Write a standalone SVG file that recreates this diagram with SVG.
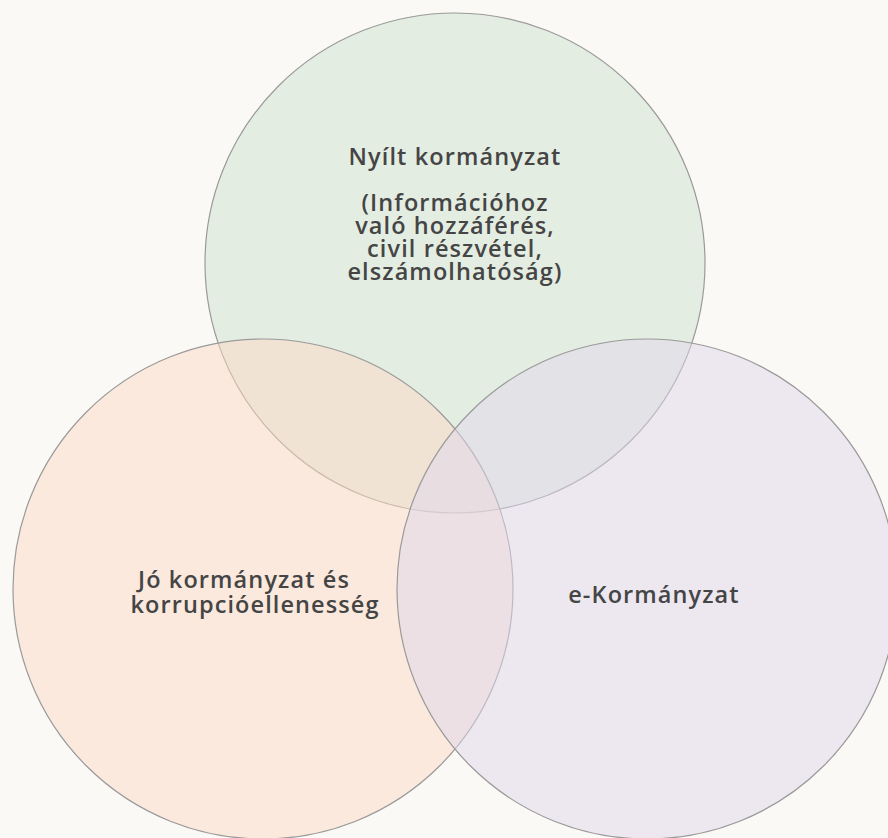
<svg xmlns="http://www.w3.org/2000/svg" width="888" height="838" viewBox="0 0 888 838">
<style>
.c{stroke:#9a9a9a;stroke-width:1.2;fill-opacity:0.5}
.t{font-family:"Open Sans","Liberation Sans",sans-serif;font-weight:600;font-size:23.5px;letter-spacing:1.1px;fill:#454545;text-anchor:middle}
</style>
<rect width="888" height="838" fill="#faf9f5"/>
<g id="open-gov">
<circle class="c" cx="455" cy="263" r="250" fill="#cee1cf"/>
</g>
<g id="good-gov">
<circle class="c" cx="263" cy="589" r="250" fill="#fcd9c5"/>
</g>
<g id="e-gov">
<circle class="c" cx="647" cy="589" r="250" fill="#e0d7eb"/>
</g>
<g id="labels">
<text class="t" x="455" y="165">Nyílt kormányzat</text>
<text class="t" x="455" y="211">(Információhoz</text>
<text class="t" x="455" y="234">való hozzáférés,</text>
<text class="t" x="455" y="257">civil részvétel,</text>
<text class="t" x="455" y="280">elszámolhatóság)</text>
<text class="t" x="244" y="588">Jó kormányzat és</text>
<text class="t" x="255" y="613" letter-spacing="1.6">korrupcióellenesség</text>
<text class="t" x="654" y="603">e-Kormányzat</text>
</g>
</svg>
